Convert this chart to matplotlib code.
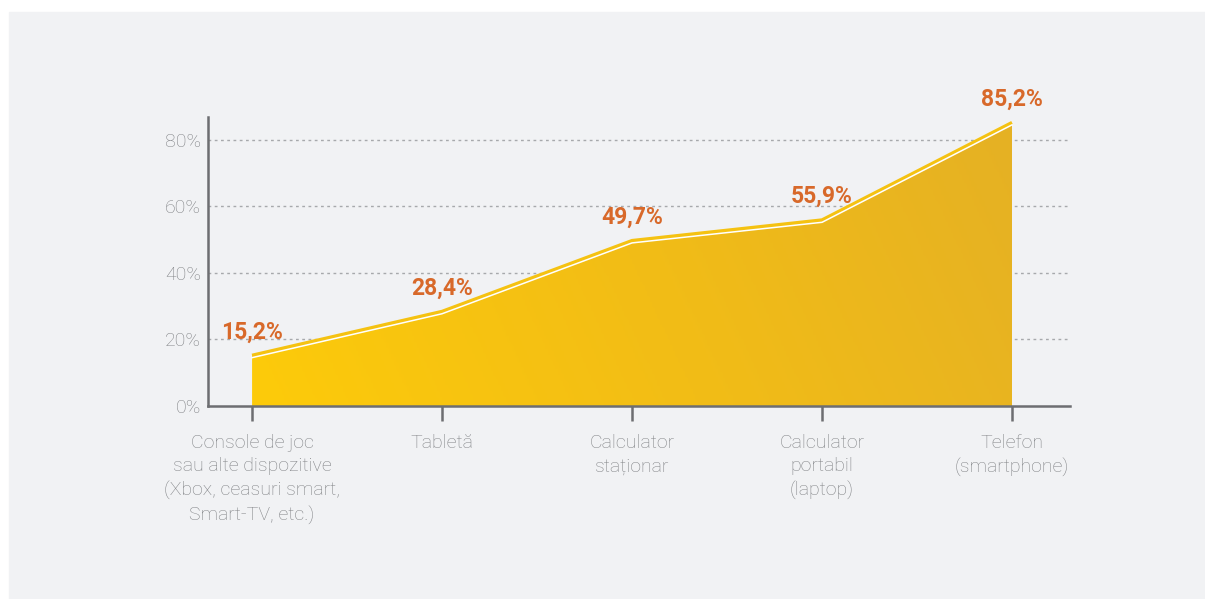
import matplotlib.pyplot as plt
import numpy as np
from matplotlib import transforms
from matplotlib.colors import LinearSegmentedColormap
from matplotlib.patches import Rectangle

# data
categories = [
    "Console de joc\nsau alte dispozitive\n(Xbox, ceasuri smart,\nSmart-TV, etc.)",
    "Tabletă",
    "Calculator\nstaționar",
    "Calculator\nportabil\n(laptop)",
    "Telefon\n(smartphone)",
]
values = [15.2, 28.4, 49.7, 55.9, 85.2]
value_labels = ["15,2%", "28,4%", "49,7%", "55,9%", "85,2%"]
y_ticks = [0, 20, 40, 60, 80]

plt.rcParams["font.family"] = ["Roboto", "DejaVu Sans"]

fig = plt.figure(figsize=(12.05, 5.99), dpi=100)
fig.patch.set_facecolor("white")
fig.add_artist(Rectangle((9 / 1205, 0), 1, 1 - 12 / 599,
                         transform=fig.transFigure, color="#f1f2f4", zorder=0))

ax = fig.add_axes([208 / 1205, 1 - 406 / 599, 862 / 1205, 289 / 599])
ax.set_facecolor("none")

x = np.arange(len(values))
ax.set_xlim(-0.232, 4.305)
ax.set_ylim(0, 86.9)

# gradient fill clipped to the area
poly = ax.fill_between(x, values, 0, color="none", linewidth=0)
cmap = LinearSegmentedColormap.from_list("yel", ["#fdcb0a", "#f2bd16", "#e5b124"])
gx, gy = np.meshgrid(np.linspace(0, 1, 300), np.linspace(0, 1, 100))
grad = 0.85 * gx + 0.15 * gy
im = ax.imshow(grad, cmap=cmap, extent=[0, 4, 0, 86.9], origin="lower",
               aspect="auto", zorder=2)
im.set_clip_path(poly.get_paths()[0], transform=ax.transData)

# top edge: yellow line and thin white line just below
ax.plot(x, values, color="#f5c211", linewidth=2.6, zorder=3, solid_capstyle="butt")
shift = transforms.offset_copy(ax.transData, fig=fig, x=0, y=-2.2, units="dots")
ax.plot(x, values, color="white", linewidth=1.1, zorder=4, transform=shift)

# value labels
for xi, v, lab in zip(x, values, value_labels):
    ax.annotate(lab, (xi, v), xytext=(0, 17), textcoords="offset points",
                ha="center", va="center", fontsize=16.5, fontweight="bold",
                color="#d8692a", zorder=5)

# grid
for t in y_ticks[1:]:
    ax.axhline(t, color="#a7a9ac", linewidth=1, linestyle=(0, (2, 2.5)), zorder=1)

# axes styling
for s in ["top", "right"]:
    ax.spines[s].set_visible(False)
for s in ["left", "bottom"]:
    ax.spines[s].set_color("#6d6e71")
    ax.spines[s].set_linewidth(1.8)

ax.set_yticks(y_ticks)
ax.set_yticklabels([f"{t}%" for t in y_ticks])
ax.tick_params(axis="y", length=0, pad=5, labelsize=14, labelcolor="#808285")
for lbl in ax.get_yticklabels():
    lbl.set_fontweight("light")

ax.set_xticks(x)
ax.set_xticklabels(categories, linespacing=1.4)
ax.tick_params(axis="x", length=11, width=1.8, color="#6d6e71", pad=9,
               labelsize=14, labelcolor="#808285")
for lbl in ax.get_xticklabels():
    lbl.set_fontweight("light")

fig.savefig("out.png", dpi=100, facecolor=fig.get_facecolor())
